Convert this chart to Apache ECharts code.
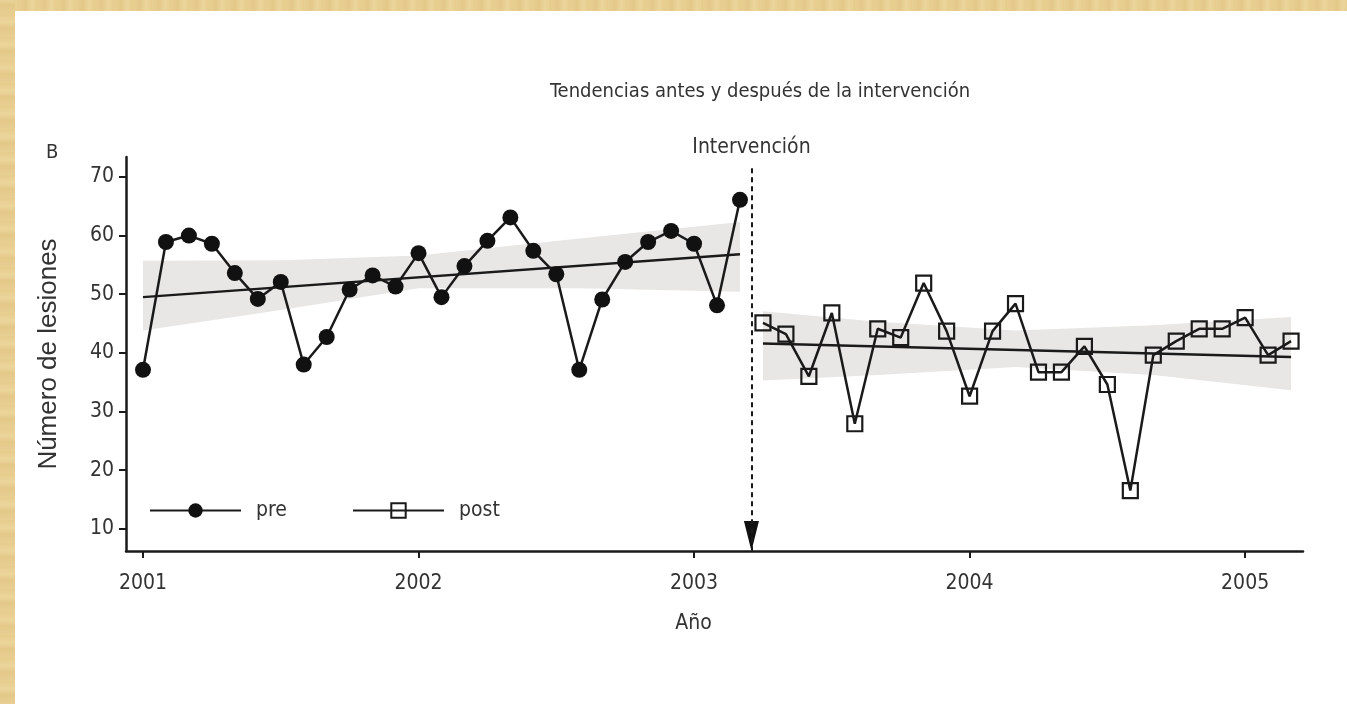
<!DOCTYPE html>
<html>
<head>
<meta charset="utf-8">
<script src="https://cdn.jsdelivr.net/npm/echarts@6/dist/echarts.min.js"></script>
<style>
  html, body { margin: 0; padding: 0; background: #ffffff; }
  #chart { position: absolute; left: 0; top: 0; width: 1347px; height: 704px; }
  .strip { position: absolute; z-index: 5;
    background: repeating-linear-gradient(90deg, #e8cf92 0px, #e3c888 7px, #ecd59c 13px, #e6cc8c 19px); }
  #stripTop { left: 0; top: 0; width: 1347px; height: 11px; }
  #stripLeft { left: 0; top: 0; width: 15px; height: 704px;
    background: repeating-linear-gradient(0deg, #e8cf92 0px, #e3c888 9px, #ecd59c 15px, #e6cc8c 23px); }
</style>
</head>
<body>
<div id="chart"></div>
<div id="stripTop" class="strip"></div>
<div id="stripLeft" class="strip"></div>
<script>
// ---- data ----
const yearLabels = ['2001', '2002', '2003', '2004', '2005'];
const yearTickMonths = [0, 12, 24, 36, 48];          // month index of each January
const yTickValues = [10, 20, 30, 40, 50, 60, 70];

const preStartMonth = 0;
const preValues = [37.1, 58.9, 60.0, 58.6, 53.6, 49.2, 52.1, 38.0, 42.7, 50.8, 53.2, 51.3, 57.0, 49.5,
                   54.8, 59.1, 63.1, 57.4, 53.4, 37.1, 49.1, 55.5, 58.9, 60.8, 58.6, 48.1, 66.1];
const postStartMonth = 27;
const postValues = [45.1, 43.2, 36.0, 46.8, 27.9, 44.1, 42.6, 51.9, 43.7, 32.6, 43.7, 48.4,
                    36.7, 36.7, 41.1, 34.6, 16.5, 39.6, 42.0, 44.1, 44.1, 46.0, 39.6, 42.0];

const preTrendMonths = [0, 26];
const preTrendValues = [49.5, 56.8];
const postTrendMonths = [27, 50];
const postTrendValues = [41.6, 39.3];

const preBandMonths = [0, 6, 12, 19, 26];
const preBandLower = [43.8, 47.3, 51.0, 51.0, 50.4];
const preBandUpper = [55.7, 55.8, 56.6, 59.5, 62.3];
const postBandMonths = [27, 32, 38, 44, 50];
const postBandLower = [35.3, 36.2, 37.6, 36.2, 33.6];
const postBandUpper = [47.1, 45.3, 43.8, 44.7, 46.1];

const interventionMonth = 26.5;
const interventionTop = 71.5;

// ---- chart ----
const FONT_N = "'Liberation Sans Narrow', 'DejaVu Sans Condensed', 'Liberation Sans', sans-serif";
const FONT = "'Liberation Sans', Arial, sans-serif";
const FS = 20;
const TXT = '#333333';
const INK = '#1a1a1a';
const X_MIN = -0.74, X_MAX = 50.52, Y_MIN = 6.2, Y_MAX = 73.4;

function pairs(startMonth, values) {
  return values.map((v, i) => [startMonth + i, v]);
}
function zip(xs, ys) { return xs.map((x, i) => [x, ys[i]]); }

function bandSeries(name, months, lower, upper) {
  return {
    name: name, type: 'custom', silent: true, z: 1,
    data: [[months[0], lower[0]]],
    renderItem: function (params, api) {
      const top = months.map((m, i) => api.coord([m, upper[i]]));
      const bot = months.map((m, i) => api.coord([m, lower[i]])).reverse();
      return { type: 'polygon', shape: { points: top.concat(bot) }, style: { fill: '#e8e7e5' } };
    }
  };
}

const chart = echarts.init(document.getElementById('chart'), null, { renderer: 'canvas' });
const legendBase = {
  top: 500, itemWidth: 91, itemHeight: 18, itemGap: 0, padding: 0,
  textStyle: { fontFamily: FONT_N, fontSize: FS + 1, color: TXT, padding: [0, 0, 0, 10] }
};

chart.setOption({
  animation: false,
  backgroundColor: '#ffffff',
  title: [
    { text: 'Tendencias antes y después de la intervención', left: 545, top: 77,
      textStyle: { fontFamily: FONT_N, fontSize: FS, fontWeight: 'normal', color: TXT } },
    { text: 'B', left: 41, top: 138,
      textStyle: { fontFamily: FONT_N, fontSize: FS, fontWeight: 'normal', color: TXT } }
  ],
  legend: [
    Object.assign({}, legendBase, { data: ['pre'], left: 149 }),
    Object.assign({}, legendBase, { data: ['post'], left: 352 })
  ],
  grid: { left: 126, right: 44, top: 157, bottom: 153, containLabel: false },
  xAxis: {
    type: 'value', min: X_MIN, max: X_MAX,
    name: 'Año', nameLocation: 'middle', nameGap: 62,
    nameTextStyle: { fontFamily: FONT_N, fontSize: FS + 1, color: TXT, padding: [0, 42, 0, 0] },
    splitLine: { show: false },
    axisLine: { show: true, onZero: false, lineStyle: { color: INK, width: 2.5 } },
    axisTick: { show: true, length: 7, customValues: yearTickMonths, lineStyle: { color: INK, width: 2 } },
    axisLabel: {
      customValues: yearTickMonths, margin: 22,
      fontFamily: FONT_N, fontSize: FS + 1, color: TXT,
      formatter: function (v) { const k = yearTickMonths.indexOf(Math.round(v)); return k >= 0 ? yearLabels[k] : ''; }
    }
  },
  yAxis: {
    type: 'value', min: Y_MIN, max: Y_MAX,
    name: 'Número de lesiones', nameLocation: 'middle', nameRotate: 90, nameGap: 64,
    nameTextStyle: { fontFamily: FONT, fontSize: 26, color: TXT },
    splitLine: { show: false },
    axisLine: { show: true, onZero: false, lineStyle: { color: INK, width: 2.5 } },
    axisTick: { show: true, length: 7, customValues: yTickValues, lineStyle: { color: INK, width: 2 } },
    axisLabel: { customValues: yTickValues, margin: 12, fontFamily: FONT_N, fontSize: FS + 1, color: TXT }
  },
  series: [
    bandSeries('preBand', preBandMonths, preBandLower, preBandUpper),
    bandSeries('postBand', postBandMonths, postBandLower, postBandUpper),
    { name: 'preTrend', type: 'line', z: 2, symbol: 'none', silent: true,
      data: zip(preTrendMonths, preTrendValues), lineStyle: { color: INK, width: 2.5 } },
    { name: 'postTrend', type: 'line', z: 2, symbol: 'none', silent: true,
      data: zip(postTrendMonths, postTrendValues), lineStyle: { color: INK, width: 2.5 } },
    { name: 'pre', type: 'line', z: 3, symbol: 'circle', symbolSize: 16,
      data: pairs(preStartMonth, preValues),
      itemStyle: { color: '#111111' }, lineStyle: { color: INK, width: 2.5 } },
    { name: 'post', type: 'line', z: 3, symbol: 'rect', symbolSize: 15,
      data: pairs(postStartMonth, postValues),
      itemStyle: { color: 'rgba(255,255,255,0)', borderColor: INK, borderWidth: 2.2 },
      lineStyle: { color: INK, width: 2.5 } },
    { name: 'intervencion', type: 'scatter', z: 4, silent: true,
      symbol: 'triangle', symbolRotate: 180, symbolSize: [15, 30], symbolOffset: [0, '-50%'],
      itemStyle: { color: '#111111', opacity: 1 },
      data: [[interventionMonth, Y_MIN]],
      markLine: {
        silent: true, symbol: ['none', 'none'],
        lineStyle: { color: INK, width: 2, type: [5, 4] },
        label: { show: true, position: 'start', distance: 10, formatter: 'Intervención',
                 fontFamily: FONT_N, fontSize: FS + 1, color: TXT },
        data: [[{ coord: [interventionMonth, interventionTop] }, { coord: [interventionMonth, Y_MIN] }]]
      }
    }
  ]
});
</script>
</body>
</html>
